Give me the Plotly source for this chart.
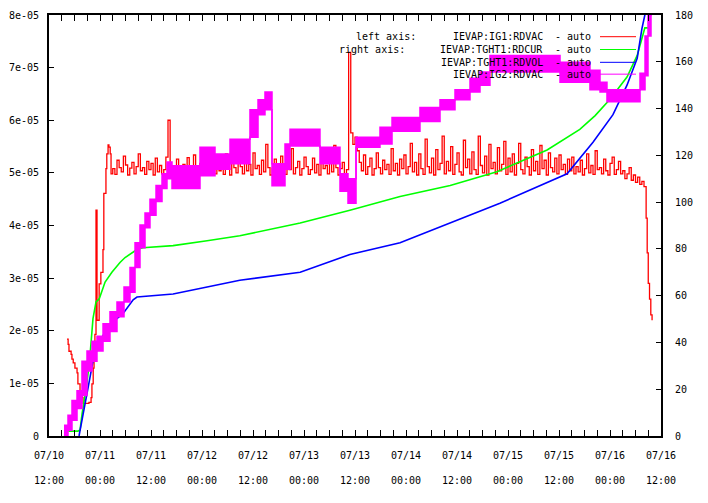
import pandas as pd
import plotly.graph_objects as go

BASE = pd.Timestamp("2010-07-10 12:00")

# ---------------- data (time in hours after 07/10 12:00) ----------------
# IEVAP:IG1:RDVAC  (left axis), values in units of 1e-06
red_early_hours = [4.24, 4.5, 4.7, 5.2, 5.4, 5.7, 6.1, 6.6, 6.8, 7.3, 7.8, 8.0, 8.9, 9.4, 9.9,
                   10.1, 10.4, 10.6, 10.8, 11.06, 11.3, 11.8, 12.2, 12.7, 12.9, 13.4, 13.6,
                   13.9, 14.1, 14.4, 14.6]
red_early_vals = [18.4, 17.4, 16.1, 15.5, 14.6, 13.9, 12.9, 12.0, 9.9, 8.6, 7.3, 6.2, 6.2, 6.4, 7.3,
                  9.9, 12.9, 16.1, 19.3, 42.9, 22.0, 28.9, 31.1, 35.4, 46.1, 50.8, 53.6,
                  55.3, 54.9, 53.6, 49.8]
red_noise_start = 15.0
red_noise_step = 0.5
red_noise_vals = [
    50.8, 49.7, 52.4, 51.0, 50.2, 53.2, 51.5, 49.6, 50.9, 52.0,
    49.8, 51.2, 53.6, 50.4, 51.0, 49.7, 52.2, 50.6, 51.8, 49.6,
    52.8, 50.2, 51.4, 49.8, 50.6, 53.0, 60.0, 51.2, 49.7, 50.8,
    52.6, 51.0, 49.6, 51.6, 50.2, 52.9, 49.8, 51.1, 53.4, 50.4,
    49.7, 51.8, 50.6, 52.4, 49.6, 50.9, 54.2, 51.0, 49.8, 52.0,
    50.4, 51.5, 49.7, 53.6, 50.8, 49.6, 52.2, 51.0, 50.0, 55.0,
    51.2, 49.8, 52.8, 50.4, 51.6, 49.6, 53.8, 50.8, 51.4, 49.7,
    52.4, 50.2, 55.4, 51.0, 49.6, 50.9, 52.6, 49.8, 51.3, 53.2,
    50.4, 49.7, 51.8, 50.6, 54.6, 49.8, 51.0, 52.2, 49.6, 50.8,
    53.0, 51.2, 49.7, 50.6, 52.8, 50.0, 51.6, 49.6, 54.0, 50.8,
    51.4, 49.8, 52.6, 50.2, 55.2, 51.0, 49.6, 50.8, 52.0, 49.8,
    50.6, 72.9, 57.6, 55.4, 56.8, 54.2, 52.0, 50.4, 53.4, 49.7,
    51.2, 52.8, 49.6, 50.8, 53.8, 51.0, 49.8, 52.4, 50.6, 51.6,
    49.7, 54.6, 50.4, 51.8, 49.6, 52.6, 50.8, 53.4, 49.8, 51.2,
    55.6, 50.2, 52.0, 49.6, 53.6, 50.8, 49.7, 56.4, 51.2, 50.0,
    52.8, 49.6, 54.4, 50.6, 51.8, 57.0, 49.8, 52.2, 50.4, 55.0,
    49.7, 51.6, 53.8, 50.2, 49.6, 56.2, 51.0, 52.6, 49.8, 54.0,
    50.6, 49.7, 57.0, 51.4, 50.0, 53.2, 49.6, 55.4, 50.8, 52.0,
    49.8, 54.8, 50.4, 51.6, 56.0, 49.7, 52.8, 50.2, 53.6, 49.6,
    51.8, 55.6, 50.6, 49.8, 53.0, 51.2, 49.6, 54.4, 50.4, 52.2,
    49.7, 55.2, 50.8, 52.4, 49.6, 53.8, 51.0, 50.2, 52.8, 49.8,
    53.4, 50.6, 51.6, 49.7, 52.6, 50.4, 53.0, 49.8, 51.2, 50.2,
    52.4, 49.6, 50.8, 53.6, 50.0, 51.4, 49.7, 54.2, 50.6, 51.0,
    49.8, 52.6, 50.4, 49.6, 51.8, 53.0, 49.7, 50.6, 52.2, 49.8,
    50.4, 48.9, 49.8, 51.0, 48.6, 49.6, 48.2, 49.2, 47.8, 48.4,
]
red_tail_hours = [140.0, 140.5, 140.75, 141.0, 141.3, 141.6, 141.9]
red_tail_vals = [47.4, 41.4, 34.8, 29.0, 26.0, 23.0, 22.0]

# IEVAP:TGHT1:RDCUR (right axis)
green_hours = [4.5, 6.8, 7.3, 7.8, 8.9, 9.6, 10.35, 11.06, 11.8, 13.2, 14.8, 16.7, 17.9, 20.7,
               22.1, 29.2, 37.2, 44.9, 59.1, 70.8, 82.6, 94.4, 105.4, 117.2, 124.9, 128.5,
               132.0, 136.0, 138.4, 139.8, 140.2, 141.2]
green_vals = [2.1, 2.1, 2.5, 9.7, 22.3, 33.3, 50.2, 57.3, 58.6, 65.8, 70.0, 74.2, 76.3, 79.7,
              80.5, 81.4, 83.5, 85.6, 91.1, 96.5, 102.4, 107.1, 113.0, 122.3, 131.1, 137.0,
              144.0, 153.5, 162.7, 171.2, 174.5, 174.5]

# IEVAP:TGHT1:RDVOL (right axis)
blue_hours = [7.06, 8.0, 9.2, 10.35, 12.0, 13.6, 15.1, 17.4, 19.1, 19.8, 20.7, 29.2, 37.2,
              44.9, 59.1, 70.8, 82.6, 94.4, 106.1, 121.9, 128.0, 132.7, 136.0, 138.4, 139.5,
              140.2, 140.5]
blue_vals = [0.0, 9.7, 20.7, 32.0, 40.5, 46.0, 48.9, 52.3, 56.5, 58.2, 59.4, 60.7, 63.7,
             66.6, 70.0, 77.6, 82.6, 91.0, 99.5, 112.1, 125.6, 137.4, 150.0, 161.5, 174.1,
             180.0, 183.0]

# IEVAP:IG2:RDVAC (right axis) - min / max envelope of the rapidly toggling signal
magenta_hours = [3.53, 4.47, 5.41, 6.59, 7.76, 8.94, 10.12, 11.29, 12.71, 14.35, 16.0, 17.65,
                 19.06, 20.24, 21.41, 22.59, 23.76, 25.18, 26.59, 27.76, 28.94, 35.53, 39.06,
                 42.59, 47.29, 49.18, 50.82, 52.47, 55.53, 56.71, 63.76, 68.47, 70.35, 72.24,
                 77.88, 80.71, 87.29, 92.0, 95.53, 99.06, 101.41, 103.76, 120.24, 127.29,
                 129.65, 131.29, 139.06, 140.24, 140.94, 141.65]
magenta_low = [0.0, 2.5, 6.7, 11.8, 17.3, 27.8, 32.0, 36.3, 40.5, 44.7, 51.0, 57.3,
               61.5, 72.0, 80.5, 89.0, 94.4, 100.3, 105.8, 110.0, 105.8, 111.3, 114.0,
               116.4, 127.7, 137.4, 139.5, 107.0, 114.0, 124.0, 116.4, 104.6, 99.5, 123.5,
               124.8, 130.3, 134.5, 139.5, 143.8, 147.1, 150.0, 155.6, 151.3, 148.0,
               147.1, 142.9, 148.0, 154.0, 171.0, 180.0]
magenta_high = [4.6, 8.9, 15.2, 19.4, 32.0, 36.3, 40.5, 42.6, 48.0, 53.1, 57.3, 63.7,
                72.0, 82.6, 90.2, 95.3, 101.2, 107.1, 112.1, 117.2, 115.5, 123.5, 120.6,
                126.9, 139.5, 143.8, 147.1, 116.4, 124.8, 131.1, 123.5, 112.1, 110.0, 127.7,
                132.0, 136.2, 140.4, 143.8, 148.0, 153.0, 155.6, 162.7, 159.8, 156.4,
                151.3, 148.0, 155.1, 171.0, 180.0, 185.0]

# axis ticks
x_tick_hours = [0, 12, 24, 36, 48, 60, 72, 84, 96, 108, 120, 132, 144]
x_tick_days = ["07/10", "07/11", "07/11", "07/12", "07/12", "07/13", "07/13",
               "07/14", "07/14", "07/15", "07/15", "07/16", "07/16"]
x_tick_times = ["12:00", "00:00", "12:00", "00:00", "12:00", "00:00", "12:00",
                "00:00", "12:00", "00:00", "12:00", "00:00", "12:00"]
y_left_ticks = [0, 1e-05, 2e-05, 3e-05, 4e-05, 5e-05, 6e-05, 7e-05, 8e-05]
y_left_labels = ["0", "1e-05", "2e-05", "3e-05", "4e-05", "5e-05", "6e-05", "7e-05", "8e-05"]

legend_left = ["IEVAP:IG1:RDVAC"]
legend_right = ["IEVAP:TGHT1:RDCUR", "IEVAP:TGHT1:RDVOL", "IEVAP:IG2:RDVAC"]

# ---------------- build ----------------
def to_time(hours):
    return BASE + pd.to_timedelta(list(hours), unit="h")

red_hours = (red_early_hours
             + [red_noise_start + red_noise_step * k for k in range(len(red_noise_vals))]
             + red_tail_hours)
red_vals = [v * 1e-6 for v in red_early_vals + red_noise_vals + red_tail_vals]

RED, GREEN, BLUE, MAGENTA = "#ff0000", "#00ff00", "#0000ff", "#ff00ff"
FONT = "DejaVu Sans Mono"

fig = go.Figure()
fig.add_trace(go.Scatter(x=to_time(red_hours), y=red_vals, mode="lines",
                         line=dict(color=RED, width=1.3, shape="hv"), yaxis="y"))
fig.add_trace(go.Scatter(x=to_time(green_hours), y=green_vals, mode="lines",
                         line=dict(color=GREEN, width=1.6), yaxis="y2"))
fig.add_trace(go.Scatter(x=to_time(blue_hours), y=blue_vals, mode="lines",
                         line=dict(color=BLUE, width=1.6), yaxis="y2"))
fig.add_trace(go.Scatter(x=to_time(magenta_hours), y=magenta_low, mode="lines",
                         line=dict(color=MAGENTA, width=1.5, shape="hv"), yaxis="y2"))
fig.add_trace(go.Scatter(x=to_time(magenta_hours), y=magenta_high, mode="lines",
                         line=dict(color=MAGENTA, width=1.5, shape="hv"), yaxis="y2",
                         fill="tonexty", fillcolor=MAGENTA))
# carrier for the second row of x labels
fig.add_trace(go.Scatter(x=to_time([0]), y=[None], xaxis="x2", yaxis="y",
                         hoverinfo="skip"))

xr = [BASE, BASE + pd.Timedelta(hours=144)]
tickvals = to_time(x_tick_hours)

fig.update_layout(
    width=708, height=503,
    margin=dict(l=49, r=47, t=9, b=67),
    plot_bgcolor="white", paper_bgcolor="white",
    showlegend=False,
    font=dict(family=FONT, size=10, color="black"),
    xaxis=dict(type="date", range=xr, tickmode="array", tickvals=tickvals,
               ticktext=x_tick_days, ticks="inside", ticklen=6, tickwidth=1,
               tickcolor="black", showline=True, linecolor="black", linewidth=2,
               mirror="allticks", showgrid=False, zeroline=False,
               ticklabelstandoff=9,
               minor=dict(dtick=3 * 3600 * 1000, tick0=BASE, ticks="inside",
                          ticklen=3, tickcolor="black", showgrid=False)),
    xaxis2=dict(type="date", range=xr, overlaying="x", anchor="y", side="bottom",
                tickmode="array", tickvals=tickvals, ticktext=x_tick_times,
                ticks="", showline=False, showgrid=False, zeroline=False,
                ticklabelstandoff=37),
    yaxis=dict(range=[0, 8e-05], tickmode="array", tickvals=y_left_ticks,
               ticktext=y_left_labels, ticks="inside", ticklen=5, tickwidth=1,
               tickcolor="black", showline=True, linecolor="black", linewidth=2,
               showgrid=False, zeroline=False, ticklabelstandoff=6),
    yaxis2=dict(range=[0, 180], overlaying="y", side="right", tickmode="linear",
                tick0=0, dtick=20, ticks="inside", ticklen=5, tickwidth=1,
                tickcolor="black", showline=True, linecolor="black", linewidth=2,
                showgrid=False, zeroline=False, ticklabelstandoff=10),
)

# gnuplot-style key (top right)
def px_x(p):
    return (p - 49) / 612.0

def px_y(p):
    return (436 - p) / 427.0

rows = [31, 44, 57, 69]
names = legend_left + legend_right
colors = [RED, GREEN, BLUE, MAGENTA]
ann = [dict(text="left axis:", x=px_x(417), y=px_y(rows[0])),
       dict(text="right axis:", x=px_x(406), y=px_y(rows[1]))]
for r, n in zip(rows, names):
    ann.append(dict(text=n, x=px_x(544), y=px_y(r)))
    ann.append(dict(text="- auto", x=px_x(592), y=px_y(r)))
for a in ann:
    a.update(xref="paper", yref="paper", xanchor="right", yanchor="middle",
             showarrow=False, font=dict(family=FONT, size=10, color="black"),
             borderpad=0)
fig.update_layout(annotations=ann)
for r, c in zip(rows, colors):
    fig.add_shape(type="line", xref="paper", yref="paper", x0=px_x(600), x1=px_x(636),
                  y0=px_y(r), y1=px_y(r), line=dict(color=c, width=1))

fig.write_html("out.html")
